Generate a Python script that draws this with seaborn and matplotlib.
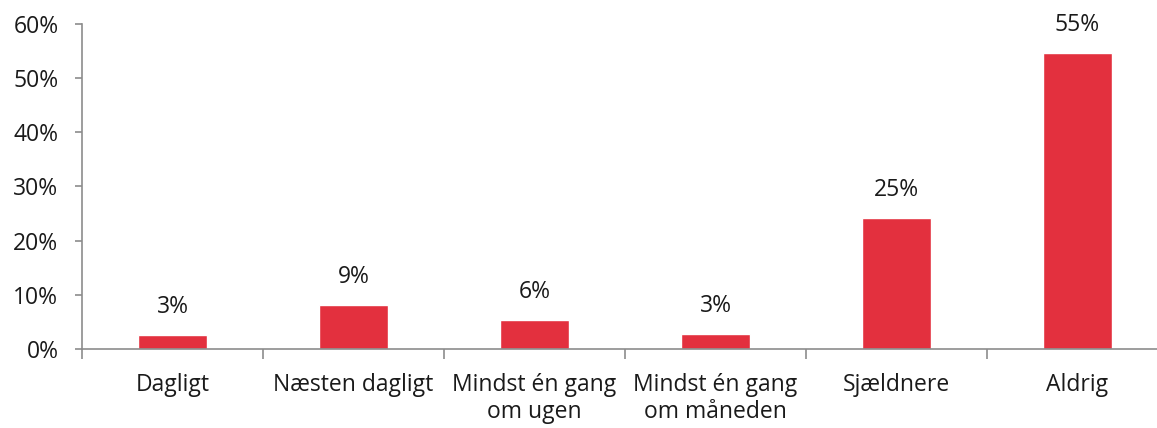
import numpy as np
import pandas as pd
import seaborn as sns
import matplotlib.pyplot as plt
from matplotlib.ticker import FixedLocator, PercentFormatter

categories = ['Dagligt', 'Næsten dagligt', 'Mindst én gang\nom ugen',
              'Mindst én gang\nom måneden', 'Sjældnere', 'Aldrig']
values = [2.5, 8.1, 5.3, 2.7, 24.2, 54.6]
labels = ['3%', '9%', '6%', '3%', '25%', '55%']

df = pd.DataFrame({'kategori': categories, 'andel': values})

sns.set_style('white')
plt.rcParams['font.family'] = ['Open Sans', 'DejaVu Sans']

fig = plt.figure(figsize=(11.57, 4.28), dpi=100)
ax = fig.add_axes([0.0709, 0.1846, 0.9386, 0.7594])

sns.barplot(data=df, x='kategori', y='andel', color='#E3303E',
            saturation=1, width=0.377, ax=ax)

for i, (v, lab) in enumerate(zip(values, labels)):
    ax.annotate(lab, (i, v), xytext=(0, 28), textcoords='offset pixels',
                ha='center', va='center', fontsize=16.5, color='#1a1a1a')

ax.set_xlim(-0.5, 5.5)
ax.set_ylim(0, 60)
ax.set_yticks(np.arange(0, 61, 10))
ax.yaxis.set_major_formatter(PercentFormatter(decimals=0))
ax.set_xlabel('')
ax.set_ylabel('')

axis_col = '#8c8c8c'
for s in ['top', 'right']:
    ax.spines[s].set_visible(False)
for s in ['left', 'bottom']:
    ax.spines[s].set_color(axis_col)
    ax.spines[s].set_linewidth(1.2)

ax.tick_params(axis='y', which='major', length=5, width=1.2, color=axis_col,
               labelsize=16.5, labelcolor='#1a1a1a', pad=12, left=True)
ax.tick_params(axis='x', which='major', length=0, labelsize=16.5,
               labelcolor='#1a1a1a', pad=17)
ax.xaxis.set_minor_locator(FixedLocator(np.arange(-0.5, 6, 1)))
ax.tick_params(axis='x', which='minor', length=7, width=1.2, color=axis_col,
               bottom=True)
for t in ax.get_xticklabels():
    t.set_va('top')
    t.set_linespacing(1.2)

fig.savefig('out.png', dpi=100)
